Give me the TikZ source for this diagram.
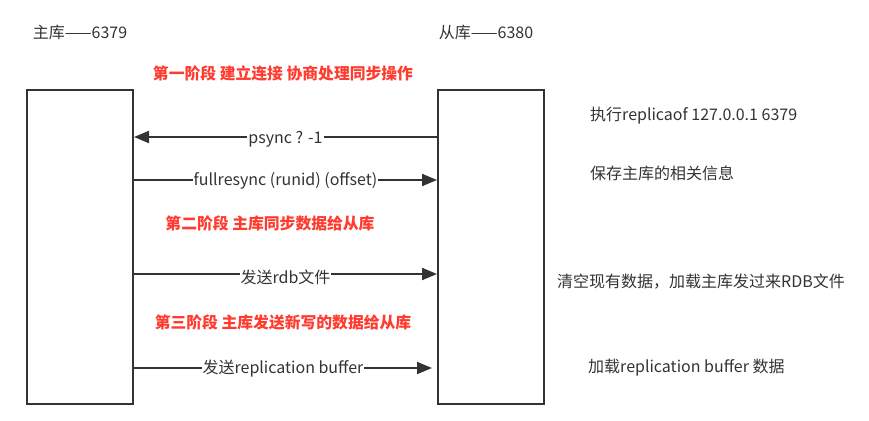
\documentclass[tikz,border=0pt]{standalone}
\usepackage{fontspec}
\setmainfont{Noto Sans CJK SC}
\usetikzlibrary{arrows.meta}
\definecolor{ln}{HTML}{333333}
\definecolor{rd}{HTML}{FF3B30}
\tikzset{
  box/.style={draw=ln, line width=2pt, minimum width=106pt, minimum height=314pt, inner sep=0pt},
  arr/.style={draw=ln, line width=2pt, -{Triangle[length=15pt,width=12pt]}},
  lbl/.style={fill=white, text=ln, font=\fontsize{16}{19}\selectfont, inner sep=1pt},
  txt/.style={text=ln, font=\fontsize{16}{19}\selectfont, inner sep=0pt},
  ttl/.style={text=rd, font=\fontsize{15.8}{19}\selectfont\bfseries, inner sep=0pt}
}
\begin{document}
\begin{tikzpicture}[x=1pt,y=-1pt]
\useasboundingbox (0,0) rectangle (869,420);
\node[box] (m) at (80,247) {};
\node[box] (s) at (491,247) {};
\node[txt] (mh) at (80,32) {主库——6379};
\node[txt] (sh) at (486,32) {从库——6380};
\node[ttl] (t1) at (283,73) {第一阶段 建立连接 协商处理同步操作};
\node[ttl] (t2) at (270,223) {第二阶段 主库同步数据给从库};
\node[ttl] (t3) at (283,322) {第三阶段 主库发送新写的数据给从库};
\draw[arr] (s.west |- 0,137) -- node[lbl, midway, yshift=-2pt] {psync ? -1} (m.east |- 0,137);
\draw[arr] (m.east |- 0,180) -- node[lbl, midway, yshift=-1pt] {fullresync (runid) (offset)} (s.west |- 0,180);
\draw[arr] (m.east |- 0,274) -- node[lbl, midway, yshift=-3pt] {发送rdb文件} (s.west |- 0,274);
\coordinate (rb) at ([xshift=-5pt]s.west |- 0,368);
\draw[arr] (m.east |- 0,368) -- node[lbl, midway, yshift=-1pt] {发送replication buffer} (rb);
\node[txt, anchor=west] (r1) at (590,116) {执行replicaof 127.0.0.1 6379};
\node[txt, anchor=west] (r2) at (590,173) {保存主库的相关信息};
\node[txt, anchor=west] (r3) at (557,282) {清空现有数据，加载主库发过来RDB文件};
\node[txt, anchor=west] (r4) at (588,368) {加载replication buffer 数据};
\end{tikzpicture}
\end{document}
